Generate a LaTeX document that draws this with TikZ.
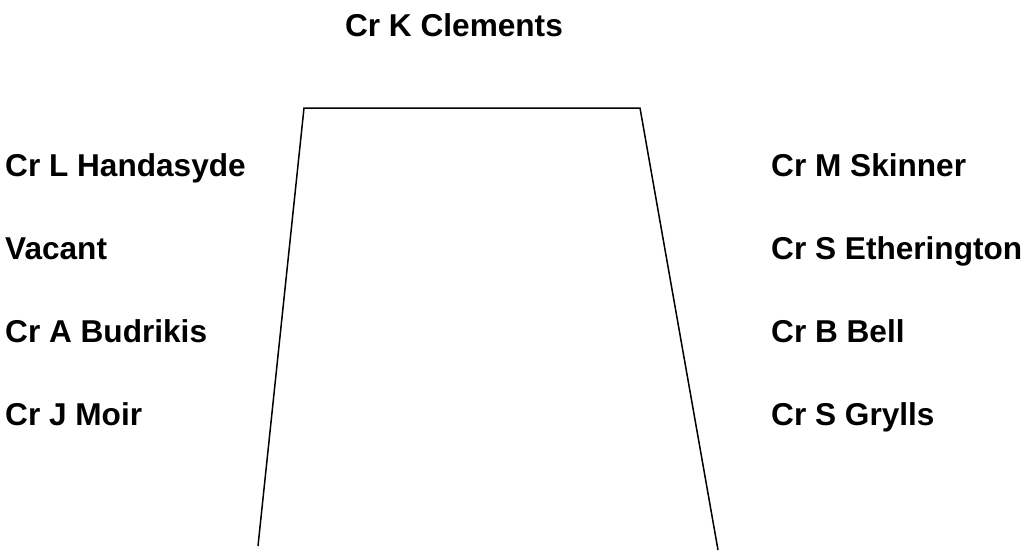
\documentclass[tikz,border=0pt]{standalone}
\usepackage{fontspec}
\setmainfont{Liberation Sans}
\begin{document}
\begin{tikzpicture}[x=1pt,y=-1pt,
  person/.style={anchor=base west,inner sep=0pt,font=\fontsize{31.6}{36}\selectfont\bfseries},
  outline/.style={line width=1.5pt,line join=miter}]
\useasboundingbox (0,0) rectangle (1021,550);
\node[person,anchor=base] (chair) at (454,36) {Cr K Clements};
\node[person] (l1) at (5,176) {Cr L Handasyde};
\node[person] (l2) at (5,259) {Vacant};
\node[person] (l3) at (5,342) {Cr A Budrikis};
\node[person] (l4) at (5,425) {Cr J Moir};
\node[person] (r1) at (771,176) {Cr M Skinner};
\node[person] (r2) at (771,259) {Cr S Etherington};
\node[person] (r3) at (771,342) {Cr B Bell};
\node[person] (r4) at (771,425) {Cr S Grylls};
\coordinate (bl) at (258,546);
\coordinate (tl) at (304,108);
\coordinate (tr) at (640,108);
\coordinate (br) at (718,550);
\draw[outline] (bl) -- (tl) -- (tr) -- (br);
\end{tikzpicture}
\end{document}
